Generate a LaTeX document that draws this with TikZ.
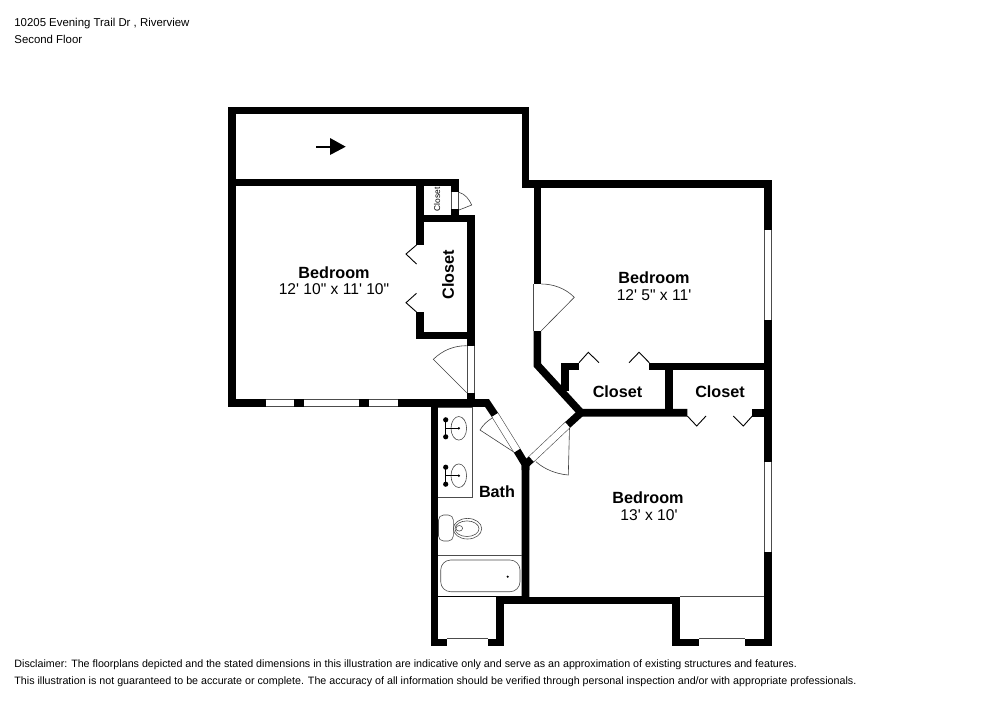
\documentclass[tikz,border=0pt]{standalone}
\usepackage{fontspec}
\newfontfamily\planfont{Liberation Sans}

\tikzset{
  wall/.style={line width=3.8pt, line join=miter},
  opening/.style={draw=black!70, line width=0.3pt, double=white, double distance=3.3pt},
  leaf/.style={draw=black!75, line width=0.3pt},
  closetleaf/.style={draw=black, line width=0.45pt},
  fixture/.style={draw=black!70, line width=0.3pt},
  roomname/.style={font=\planfont\bfseries\fontsize{8.1}{9}\selectfont, inner sep=0pt},
  roomsize/.style={font=\planfont\fontsize{7.8}{9}\selectfont, inner sep=0pt},
  notes/.style={font=\planfont\fontsize{5.35}{6}\selectfont, anchor=base west, inner sep=0pt},
}

\begin{document}
\begin{tikzpicture}[x=0.5pt, y=-0.5pt]

\useasboundingbox (0,0) rectangle (1000,707);

% header
\node[notes, font=\planfont\fontsize{5.7}{6}\selectfont] (address) at (14,26.5) {10205 Evening Trail Dr , Riverview};
\node[notes, font=\planfont\fontsize{5.7}{6}\selectfont] (floor) at (14,43.5) {Second Floor};

% outer walls
\draw[wall] (265.7,403) -- (232,403) -- (232,110.5) -- (525.5,110.5) -- (525.5,184) -- (768,184) -- (768,230);
\draw[wall] (768,320) -- (768,461.7);
\draw[wall] (768,551.7) -- (768,642.3) -- (745.3,642.3);
\draw[wall] (699,642.3) -- (676,642.3) -- (676,600.3) -- (499.7,600.3) -- (499.7,642.3) -- (487.7,642.3);
\draw[wall] (446.7,642.3) -- (434.3,642.3) -- (434.3,403);
\draw[wall] (294.3,403) -- (304.3,403);
\draw[wall] (359,403) -- (369,403);
\draw[wall] (397.7,403) -- (487,403) -- (495,415);

% inner walls
\draw[wall] (232,182.5) -- (455,182.5) -- (455,192.3);
\draw[wall] (455,209.3) -- (455,218.5);
\draw[wall] (420,182.5) -- (420,245);
\draw[wall] (420,218.5) -- (471,218.5) -- (471,345.7);
\draw[wall] (420,312) -- (420,335.3) -- (471,335.3);
\draw[wall] (471,392.7) -- (471,403);
\draw[wall] (537.3,184) -- (537.3,284);
\draw[wall] (537.3,330.7) -- (537.3,365) -- (581,412.7) -- (687.3,412.7);
\draw[wall] (581,412.7) -- (567.5,425);
\draw[wall] (531.5,459) -- (525.5,464.5) -- (525.5,600.3);
\draw[wall] (517,450.5) -- (525.5,464.5) -- (525.5,470);
\draw[wall] (564.7,391) -- (564.7,366.3) -- (579,366.3);
\draw[wall] (649.3,366.3) -- (768,366.3);
\draw[wall] (669,366.3) -- (669,412.7);
\draw[wall] (752.3,412.7) -- (768,412.7);

% windows
\draw[opening] (265.7,403) -- (294.3,403);
\draw[opening] (304.3,403) -- (359,403);
\draw[opening] (369,403) -- (397.7,403);
\draw[opening] (768,230) -- (768,320);
\draw[opening] (768,461.7) -- (768,551.7);
\draw[opening] (446.7,642.3) -- (487.7,642.3);
\draw[opening] (699,642.3) -- (745.3,642.3);

% door openings
\draw[opening] (455,192.3) -- (455,209.3);
\draw[opening] (471,345.7) -- (471,392.7);
\draw[opening] (537.3,284) -- (537.3,330.7);
\draw[opening] (495,415) -- (517,450.5);
\draw[opening] (531.5,459) -- (567.5,425);

% door swings
\draw[leaf] (459,192.3) .. controls (465,194) and (469,199) .. (471.7,205) -- (459,210);
\draw[leaf] (466.7,392.7) -- (433.3,359.3) .. controls (443,350) and (454,345.7) .. (466.7,345.7);
\draw[leaf] (541.3,330.7) -- (574.3,297.3) .. controls (565,288) and (553,284) .. (541.3,284);
\draw[leaf] (513.3,451.7) -- (480,430) .. controls (483,425) and (487,421) .. (492.7,417.7);
\draw[leaf] (569.5,427.5) -- (568.3,475) .. controls (556,474) and (544,469) .. (536,461.7);

% closet doors
\draw[closetleaf] (416.5,245) -- (406,254) -- (416.5,264);
\draw[closetleaf] (416.5,293.3) -- (406,302.7) -- (416.5,312);
\draw[closetleaf] (579,362.7) -- (588.3,352.3) -- (599,362.7);
\draw[closetleaf] (629,362.7) -- (639,352.3) -- (649.3,362.7);
\draw[closetleaf] (687.3,416) -- (696.7,426) -- (706,416);
\draw[closetleaf] (733.3,416) -- (743.3,426) -- (752.3,416);

% vanity
\draw[fixture] (438,407) -- (472.7,407) -- (472.7,497.3) -- (438,497.3);
\foreach \y in {428.3,475.7} {
  \draw[fixture] (458.8,\y) ellipse (7.8 and 11.8);
  \draw[black, line width=0.5pt] (445.7,\y-8) -- (445.7,\y+8);
  \draw[black, line width=0.5pt] (445.7,\y) -- (458.8,\y);
  \fill (445.7,\y-8.5) circle (2.6);
  \fill (445.7,\y+8.5) circle (2.6);
  \fill (458.8,\y) circle (1.3);
}

% toilet
\draw[fixture, rounded corners=2.5pt] (438.5,515) rectangle (453.3,541);
\draw[fixture] (467.5,528.7) ellipse (14.2 and 10.3);
\draw[fixture] (467,528.7) ellipse (12 and 7.8);
\draw[fixture] (459.3,528.3) ellipse (3.3 and 2.8);

% tub
\draw[fixture] (438,555.7) -- (521.7,555.7);
\draw[fixture, rounded corners=5pt] (440.7,560) rectangle (520,591.7);
\fill (507.7,576.7) circle (1.2);
\draw[black, line width=0.3pt] (438,596.7) -- (521.7,596.7);
\draw[fixture] (680,596.7) -- (764,596.7);

% stair arrow
\draw[black, line width=1pt] (316,146.7) -- (331,146.7);
\fill (330,138) -- (345.7,146.7) -- (330,155) -- cycle;

% rooms
\node[roomname] (bedroomwest) at (334,272.5) {Bedroom};
\node[roomsize] (bedroomwestsize) at (334,289.5) {12' 10" x 11' 10"};
\node[roomname] (bedroomeast) at (654,277.5) {Bedroom};
\node[roomsize] (bedroomeastsize) at (654,295.5) {12' 5" x 11'};
\node[roomname] (bedroomsouth) at (648,497.5) {Bedroom};
\node[roomsize] (bedroomsouthsize) at (649,515.5) {13' x 10'};
\node[roomname] (bath) at (497,491.5) {Bath};
\node[roomname] (closetwest) at (617.5,391.5) {Closet};
\node[roomname] (closeteast) at (720,391.5) {Closet};
\node[roomname, rotate=90] (closetmid) at (448,274.5) {Closet};
\node[rotate=90, inner sep=0pt, font=\planfont\fontsize{4.2}{5}\selectfont] (closetsmall) at (437,199.5) {Closet};

% disclaimer
\node[notes] (disclaimerone) at (14,667) {Disclaimer: The floorplans depicted and the stated dimensions in this illustration are indicative only and serve as an approximation of existing structures and features.};
\node[notes] (disclaimertwo) at (14,684) {This illustration is not guaranteed to be accurate or complete. The accuracy of all information should be verified through personal inspection and/or with appropriate professionals.};

\end{tikzpicture}
\end{document}
